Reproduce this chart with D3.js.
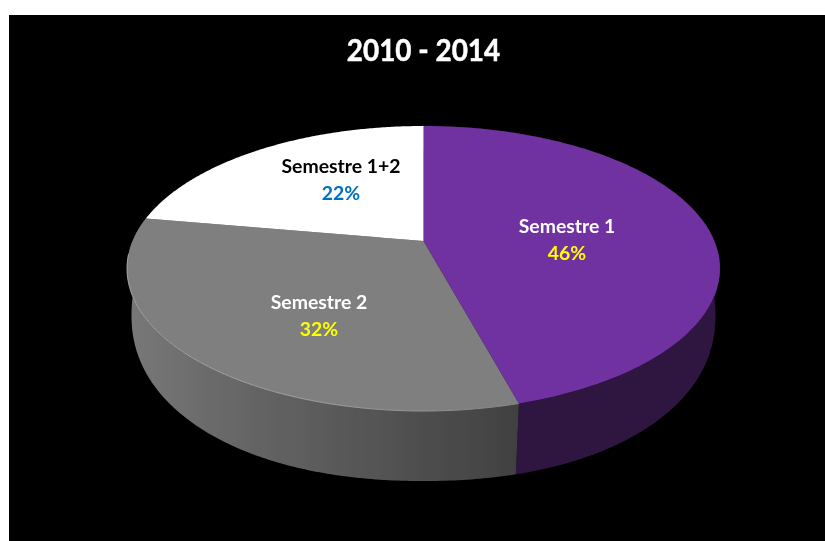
<!DOCTYPE html>
<html><head><meta charset="utf-8">
<script src="https://cdn.jsdelivr.net/npm/d3@7/dist/d3.min.js"></script>
<style>html,body{margin:0;padding:0;background:#fff}svg{display:block}</style></head>
<body><svg id="c" width="825" height="541"></svg>
<script>
const title = "2010 - 2014";
const categories = ["Semestre 1", "Semestre 2", "Semestre 1+2"];
const values = [45.7, 32.0, 22.3];
const faceColors = ["#7030a0", "#7f7f7f", "#ffffff"];
const nameColors = ["#ffffff", "#ffffff", "#000000"];
const pctColors = ["#ffff00", "#ffff00", "#0070c0"];

const W = 825, H = 541;
const svg = d3.select("#c");
const defs = svg.append("defs");
defs.append("filter").attr("id", "soft").attr("x", "-5%").attr("y", "-5%").attr("width", "110%").attr("height", "110%")
  .append("feGaussianBlur").attr("stdDeviation", 0.45);
svg.append("rect").attr("x", 9).attr("y", 15).attr("width", W - 9).attr("height", H - 15).attr("fill", "#000");
const root = svg.append("g").attr("filter", "url(#soft)");

const cx = 423.5, k = 0.193, apexY = 241;
// top face: circle seen through a perspective projection
const rimTop = a => {
  const u = Math.sin(a), v = Math.cos(a), w = 1 + k * v;
  return [cx + 290.9 * u / w, apexY - 137.2 * v / w];
};
// foot of the wall: slightly squared ellipse
const footPower = 2 / 2.15, signedPow = t => Math.sign(t) * Math.pow(Math.abs(t), footPower);
const rimBottom = a => {
  const p = Math.PI + (a - Math.PI) * 1.09;
  return [cx + 292 * signedPow(Math.sin(p)), 315 - 166 * signedPow(Math.cos(p))];
};
const line = d3.line();
const arcs = d3.pie().sort(null).value(d => d)(values);
const samples = (a0, a1) => d3.range(0, 161).map(i => a0 + (a1 - a0) * i / 160);

const addGrad = (id, stops) => {
  const g = defs.append("linearGradient").attr("id", id).attr("gradientUnits", "userSpaceOnUse")
    .attr("x1", 128).attr("x2", 517).attr("y1", 0).attr("y2", 0);
  stops.forEach(s => g.append("stop").attr("offset", s[0]).attr("stop-color", s[1]));
};
addGrad("sideGray", [[0, "#787878"], [0.25, "#686868"], [0.6, "#565656"], [1, "#414141"]]);
addGrad("rimGray", [[0, "#a6a6a6"], [0.5, "#a2a2a2"], [0.8, "#939393"], [1, "#888888"]]);
const sideFill = ["#2d1841", "url(#sideGray)", "#000"];

// side walls
arcs.forEach((d, i) => {
  if (i === 2) return;
  const s = samples(d.startAngle, d.endAngle);
  const pts = s.map(rimTop).concat(s.slice().reverse().map(rimBottom));
  root.append("path").attr("d", line(pts) + "Z").attr("fill", sideFill[i]);
});
// top faces
arcs.forEach((d, i) => {
  const pts = [[cx, apexY]].concat(samples(d.startAngle, d.endAngle).map(rimTop));
  root.append("path").attr("d", line(pts) + "Z").attr("fill", faceColors[i]);
});
// bevel highlight along the front of the gray rim only
const rim = samples(arcs[1].startAngle, Math.PI * 1.47).map(rimTop);
root.append("path").attr("d", line(rim)).attr("fill", "none").attr("stroke", "url(#rimGray)").attr("stroke-width", 1);

// labels
const font = "Lato, 'Open Sans', sans-serif";
root.append("text").attr("transform", "translate(423.5,61) scale(0.9,1)").attr("text-anchor", "middle")
  .attr("font-family", font).attr("font-weight", 700).attr("font-size", 31)
  .attr("fill", "#fff").attr("stroke", "#fff").attr("stroke-width", 0.5).text(title);
const labelPos = [[567, 233], [319, 309], [341, 173]];
categories.forEach((c, i) => {
  root.append("text").attr("x", labelPos[i][0]).attr("y", labelPos[i][1]).attr("text-anchor", "middle")
    .attr("font-family", font).attr("font-weight", 700).attr("font-size", 19.4).attr("fill", nameColors[i]).text(c);
  root.append("text").attr("x", labelPos[i][0]).attr("y", labelPos[i][1] + 27).attr("text-anchor", "middle")
    .attr("font-family", font).attr("font-weight", 700).attr("font-size", 19.4).attr("fill", pctColors[i]).text(Math.round(values[i]) + "%");
});
</script></body></html>
